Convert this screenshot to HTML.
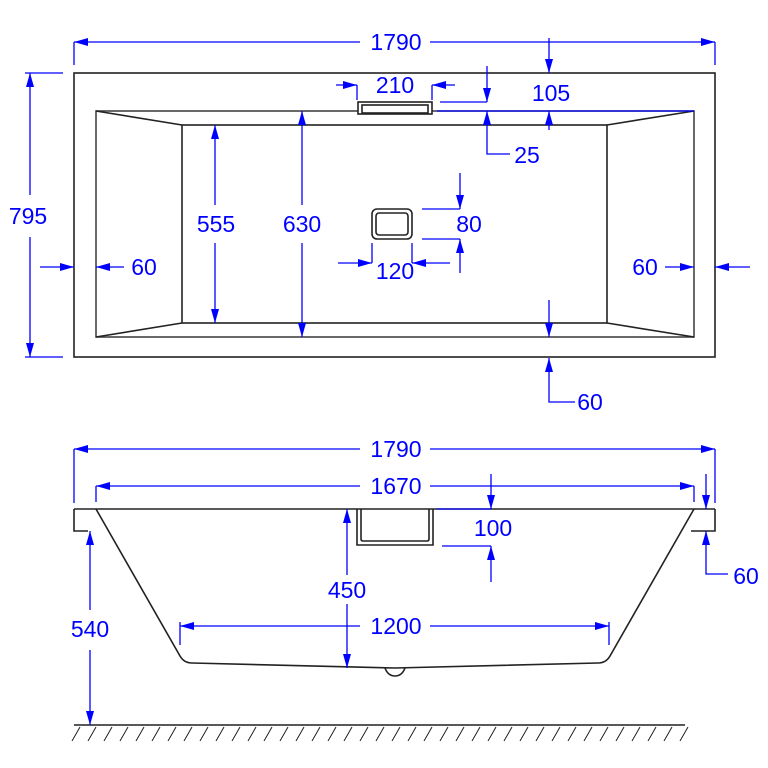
<!DOCTYPE html>
<html><head><meta charset="utf-8"><style>
html,body{margin:0;padding:0;background:#fff;}
svg{display:block}
text{font-family:"Liberation Sans",sans-serif;font-size:23px;fill:#0000ff;text-anchor:middle;dominant-baseline:central}
</style></head><body>
<svg width="768" height="768" viewBox="0 0 768 768" xmlns="http://www.w3.org/2000/svg">
<defs>
<marker id="a" markerWidth="14" markerHeight="8" refX="14" refY="4" orient="auto" markerUnits="userSpaceOnUse">
<path d="M0,0 L14,4 L0,8 Z" fill="#0000ff"/></marker>
</defs>
<g fill="none" stroke="#222" stroke-width="1.6">
<rect x="74" y="73" width="641" height="284"/>
<rect x="96" y="111" width="598" height="226" stroke="#444"/>
<rect x="182" y="125" width="425" height="198"/>
<line x1="96" y1="111" x2="182" y2="125"/><line x1="96" y1="337" x2="182" y2="323"/>
<line x1="694" y1="111" x2="607" y2="125"/><line x1="694" y1="337" x2="607" y2="323"/>
<rect x="358" y="102" width="74" height="12" fill="#fff"/>
<rect x="362" y="105" width="66" height="8"/>
<rect x="372" y="209" width="40" height="30" rx="5"/>
<rect x="376" y="213" width="32" height="22" rx="3"/>
</g>
<g stroke="#0000ff" stroke-width="1.3" fill="none">
<line x1="74" y1="42" x2="74" y2="65"/><line x1="715" y1="42" x2="715" y2="65"/>
<line x1="360" y1="42" x2="74" y2="42" marker-end="url(#a)"/><line x1="430" y1="42" x2="715" y2="42" marker-end="url(#a)"/>
<line x1="25" y1="73" x2="63" y2="73"/><line x1="25" y1="357" x2="63" y2="357"/>
<line x1="30" y1="195" x2="30" y2="73" marker-end="url(#a)"/><line x1="30" y1="237" x2="30" y2="357" marker-end="url(#a)"/>
<line x1="549" y1="38" x2="549" y2="73" marker-end="url(#a)"/><line x1="549" y1="130" x2="549" y2="111" marker-end="url(#a)"/>
<line x1="357" y1="85" x2="357" y2="100"/><line x1="432" y1="85" x2="432" y2="100"/>
<line x1="336" y1="85" x2="357" y2="85" marker-end="url(#a)"/><line x1="455" y1="85" x2="432" y2="85" marker-end="url(#a)"/>
<line x1="440" y1="102" x2="487" y2="102"/><line x1="487" y1="66" x2="487" y2="102" marker-end="url(#a)"/>
<polyline points="510,154 487,154 487,111" marker-end="url(#a)"/>
<line x1="437" y1="111" x2="694" y2="111"/>
<line x1="215" y1="205" x2="215" y2="125" marker-end="url(#a)"/><line x1="215" y1="243" x2="215" y2="323" marker-end="url(#a)"/>
<line x1="302" y1="205" x2="302" y2="111" marker-end="url(#a)"/><line x1="302" y1="243" x2="302" y2="337" marker-end="url(#a)"/>
<line x1="40" y1="267" x2="74" y2="267" marker-end="url(#a)"/><line x1="124" y1="267" x2="96" y2="267" marker-end="url(#a)"/>
<line x1="665" y1="267" x2="694" y2="267" marker-end="url(#a)"/><line x1="750" y1="267" x2="715" y2="267" marker-end="url(#a)"/>
<line x1="549" y1="300" x2="549" y2="337" marker-end="url(#a)"/>
<polyline points="575,402 549,402 549,358" marker-end="url(#a)"/>
<line x1="422" y1="209" x2="460" y2="209"/><line x1="422" y1="239" x2="460" y2="239"/>
<line x1="460" y1="173" x2="460" y2="209" marker-end="url(#a)"/><line x1="460" y1="273" x2="460" y2="239" marker-end="url(#a)"/>
<line x1="372" y1="243" x2="372" y2="263"/><line x1="412" y1="243" x2="412" y2="263"/>
<line x1="338" y1="263" x2="372" y2="263" marker-end="url(#a)"/><line x1="450" y1="263" x2="412" y2="263" marker-end="url(#a)"/>
</g>
<g>
<rect x="364" y="30" width="64" height="24" fill="#fff"/>
<text x="396" y="42">1790</text>
<text x="28" y="216">795</text>
<text x="551" y="93">105</text>
<text x="395" y="85">210</text>
<text x="527" y="155">25</text>
<rect x="192" y="211" width="48" height="26" fill="#fff"/><text x="216" y="224">555</text>
<rect x="278" y="211" width="48" height="26" fill="#fff"/><text x="302" y="224">630</text>
<text x="144" y="267">60</text>
<text x="645" y="267">60</text>
<text x="590" y="402">60</text>
<text x="469" y="224">80</text>
<text x="395" y="271">120</text>
</g>
<g fill="none" stroke="#222" stroke-width="1.6">
<line x1="74" y1="509" x2="715" y2="509"/>
<polyline points="74,509 74,531 88,531"/>
<polyline points="715,509 715,531 691,531"/>
<path d="M96,509 L180,656 Q184,663 192,663 L395,668 L598,663 Q606,663 610,656 L694,509"/>
<path d="M385,668 Q388,676 395,676 Q402,676 405,668"/>
<path d="M357,509 L357,545 L433,545 L433,509"/>
<path d="M361,509 L361,539 Q361,541 363,541 L427,541 Q429,541 429,539 L429,509"/>
<line x1="74" y1="725" x2="685" y2="725"/>
</g>
<g stroke="#222" stroke-width="1">
<path d="M80,727l-8,14M96,727l-8,14M112,727l-8,14M128,727l-8,14M144,727l-8,14M160,727l-8,14M176,727l-8,14M192,727l-8,14M208,727l-8,14M224,727l-8,14M240,727l-8,14M256,727l-8,14M272,727l-8,14M288,727l-8,14M304,727l-8,14M320,727l-8,14M336,727l-8,14M352,727l-8,14M368,727l-8,14M384,727l-8,14M400,727l-8,14M416,727l-8,14M432,727l-8,14M448,727l-8,14M464,727l-8,14M480,727l-8,14M496,727l-8,14M512,727l-8,14M528,727l-8,14M544,727l-8,14M560,727l-8,14M576,727l-8,14M592,727l-8,14M608,727l-8,14M624,727l-8,14M640,727l-8,14M656,727l-8,14M672,727l-8,14M688,727l-8,14"/>
</g>
<g stroke="#0000ff" stroke-width="1.3" fill="none">
<line x1="74" y1="449" x2="74" y2="503"/><line x1="715" y1="449" x2="715" y2="503"/>
<line x1="360" y1="449" x2="74" y2="449" marker-end="url(#a)"/><line x1="430" y1="449" x2="715" y2="449" marker-end="url(#a)"/>
<line x1="96" y1="486" x2="96" y2="502"/><line x1="694" y1="486" x2="694" y2="502"/>
<line x1="360" y1="486" x2="96" y2="486" marker-end="url(#a)"/><line x1="430" y1="486" x2="694" y2="486" marker-end="url(#a)"/>
<line x1="437" y1="509" x2="491" y2="509"/>
<line x1="491" y1="474" x2="491" y2="509" marker-end="url(#a)"/>
<line x1="442" y1="546" x2="491" y2="546"/>
<line x1="491" y1="582" x2="491" y2="546" marker-end="url(#a)"/>
<line x1="706" y1="474" x2="706" y2="509" marker-end="url(#a)"/>
<polyline points="728,574 706,574 706,531" marker-end="url(#a)"/>
<line x1="90" y1="610" x2="90" y2="531" marker-end="url(#a)"/><line x1="90" y1="650" x2="90" y2="725" marker-end="url(#a)"/>
<line x1="347" y1="575" x2="347" y2="509" marker-end="url(#a)"/><line x1="347" y1="604" x2="347" y2="668" marker-end="url(#a)"/>
<line x1="180" y1="622" x2="180" y2="645"/><line x1="609" y1="622" x2="609" y2="645"/>
<line x1="360" y1="626" x2="180" y2="626" marker-end="url(#a)"/><line x1="430" y1="626" x2="609" y2="626" marker-end="url(#a)"/>
</g>
<g>
<rect x="364" y="437" width="64" height="24" fill="#fff"/><text x="396" y="449">1790</text>
<rect x="364" y="474" width="64" height="24" fill="#fff"/><text x="396" y="486">1670</text>
<text x="493" y="528">100</text>
<text x="746" y="576">60</text>
<text x="90" y="629">540</text>
<text x="347" y="590">450</text>
<rect x="362" y="614" width="68" height="24" fill="#fff"/><text x="396" y="626">1200</text>
</g>
</svg>
</body></html>
